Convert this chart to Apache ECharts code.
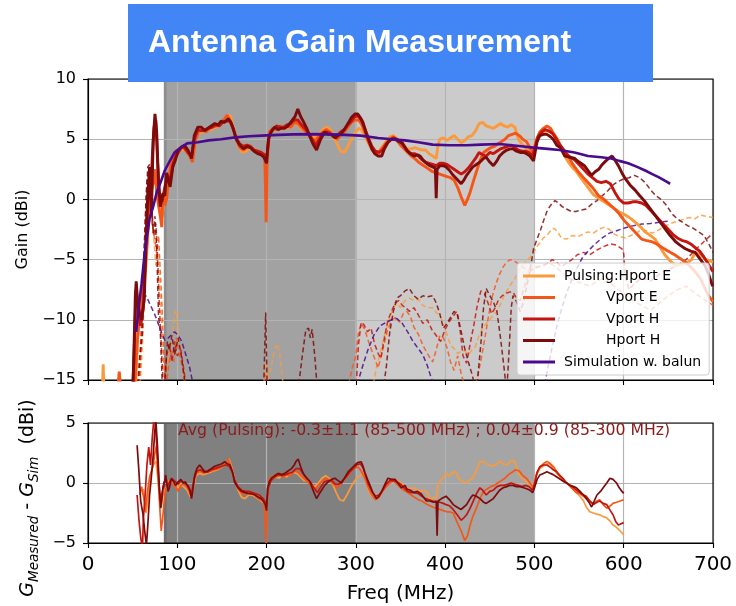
<!DOCTYPE html>
<html>
<head>
<meta charset="utf-8">
<script src="https://cdn.jsdelivr.net/npm/echarts@6/dist/echarts.min.js"></script>
<style>
  html, body { margin: 0; padding: 0; background: #fff; }
  #chart { width: 736px; height: 606px; }
</style>
</head>
<body>
<div id="chart"></div>
<script>
// ---- Measured co-pol gain (dBi) vs frequency (MHz) ----
const hportE = [[10,-16],[16,-16],[17,-13.7],[18,-16],[53,-16],[56,-11],[59,-9],[62,-8],[65,-5.5],[67,-3],[69,-0.5],[71,0.5],[73,1.5],[75,2.0],[77,1.0],[79,0.0],[81,-1.0],[83,-1.5],[85,0.0],[87,0.3],[89,1.3],[92,2.6],[95,3.3],[98,3.8],[101,4.0],[105,4.2],[109,4.1],[113,3.7],[117,3.3],[120,4.9],[124,5.6],[128,5.6],[132,5.7],[136,5.8],[140,5.9],[144,6.0],[148,6.2],[152,6.5],[156,6.9],[159,7.0],[162,6.2],[165,5.3],[169,4.4],[173,3.9],[177,4.0],[181,4.3],[185,4.2],[189,4.0],[193,3.8],[197,3.6],[200,3.5],[203,5.4],[207,5.8],[211,5.9],[215,5.8],[219,6.0],[223,5.9],[227,6.1],[231,6.3],[235,6.2],[239,5.9],[243,5.6],[247,5.6],[251,5.3],[255,5.1],[259,5.4],[263,5.8],[267,6.0],[271,5.8],[275,5.3],[279,4.6],[283,4.0],[287,3.9],[291,4.4],[295,5.0],[299,5.5],[303,5.9],[306,5.8],[310,5.3],[314,4.7],[318,4.2],[322,3.9],[326,4.0],[330,4.4],[334,4.8],[338,5.2],[342,5.3],[346,5.0],[350,4.6],[354,4.4],[358,4.2],[362,4.2],[366,4.3],[370,4.2],[374,4.1],[378,4.1],[382,3.8],[386,3.6],[390,3.4],[392,4.5],[394,5.0],[398,5.1],[402,4.9],[406,5.1],[410,5.3],[414,5.0],[418,4.7],[422,4.9],[426,5.2],[430,5.3],[434,5.7],[438,6.3],[442,6.4],[446,6.1],[450,6.0],[454,5.9],[458,6.1],[462,6.3],[466,6.1],[470,6.0],[474,6.2],[478,6.0],[482,5.0],[486,4.6],[490,4.3],[495,4.1],[499,4.1],[502,4.9],[506,5.3],[510,5.5],[514,5.7],[518,5.6],[522,5.4],[526,5.0],[530,4.3],[534,3.6],[538,3.1],[542,2.7],[546,2.4],[551,1.9],[556,1.4],[561,0.9],[566,0.4],[572,0.1],[578,-0.2],[584,-0.5],[590,-0.8],[596,-1.1],[602,-1.3],[608,-1.6],[613,-1.9],[619,-2.3],[624,-2.7],[630,-3.0],[635,-3.3],[641,-4.0],[646,-4.6],[652,-5.1],[658,-5.5],[664,-5.4],[670,-5.3],[676,-5.0],[680,-4.4],[686,-4.6],[692,-5.0],[700,-5.2]];

const vportE = [[33,-16],[35,-14.3],[37,-16],[52,-16],[55,-12],[57.6,-9.7],[60,-8],[62,-7.2],[65,-4.8],[67,-2.5],[69,-0.05],[71,0.8],[73,1.35],[75,2.5],[77,0.5],[79,-0.5],[81,-1.4],[82.6,-2.3],[84,0.5],[86,-0.5],[88,0],[90,1.5],[93,3.0],[96,3.4],[99,4.1],[102,4.0],[106,4.4],[110,4.0],[114,3.6],[117,3.1],[120,4.8],[124,5.7],[128,5.8],[132,5.6],[136,5.9],[140,6.0],[144,6.1],[148,6.3],[152,6.6],[156,7.0],[159,6.6],[163,5.8],[166,5.0],[170,4.3],[174,4.1],[178,4.3],[182,4.3],[186,4.1],[190,3.9],[194,3.7],[198,3.6],[199.5,-1.9],[200.5,3.0],[203,5.6],[207,5.9],[211,5.8],[215,6.1],[219,5.9],[223,6.1],[227,6.0],[231,6.4],[235,6.3],[239,6.0],[243,5.7],[247,5.4],[251,5.0],[255,4.9],[259,5.3],[263,5.6],[267,5.8],[271,5.6],[275,5.3],[279,5.0],[283,5.3],[287,5.6],[291,6.0],[295,6.4],[299,6.6],[303,6.6],[306,6.3],[310,5.6],[314,4.8],[318,4.1],[322,3.8],[326,3.9],[330,4.3],[334,4.7],[338,5.0],[342,5.2],[346,4.9],[350,4.5],[354,4.2],[358,3.9],[362,3.6],[366,3.4],[370,3.1],[374,2.9],[378,2.7],[382,2.5],[386,2.3],[390,2.2],[394,2.1],[398,2.0],[402,1.9],[406,1.8],[410,1.6],[414,1.0],[418,0.2],[422,-0.5],[425,0.0],[428,0.6],[432,1.6],[435,2.3],[439,3.2],[443,3.9],[447,4.1],[451,4.3],[455,4.4],[459,4.6],[463,4.8],[467,5.0],[471,5.3],[475,5.4],[479,5.5],[483,5.3],[487,5.0],[491,4.8],[495,4.3],[499,3.8],[502,4.9],[506,5.6],[510,5.9],[514,6.1],[518,5.9],[522,5.4],[526,4.8],[530,4.3],[534,3.9],[538,3.6],[543,2.9],[549,2.3],[555,1.8],[560,1.4],[566,0.9],[572,0.3],[578,0.0],[584,-0.4],[590,-0.8],[595,-1.2],[600,-1.7],[605,-2.1],[610,-2.5],[615,-2.9],[620,-3.3],[625,-3.4],[631,-3.5],[637,-3.7],[643,-4.0],[650,-4.3],[657,-4.6],[663,-4.9],[669,-5.2],[675,-5.6],[680,-6.0],[686,-6.6],[691,-7.4],[695,-8.0],[700,-8.5]];

const vportH = [[50,-16],[52,-12],[54,-7.5],[56,-9],[59,-10.5],[62,-9],[64,-5],[66,-1.5],[68,1.5],[70,0],[72,3.5],[74,6.0],[76,6.6],[78,3.0],[80,0.5],[83,-0.2],[86,1.0],[89,2.0],[92,1.5],[95,2.9],[98,3.5],[101,3.9],[105,4.4],[108,4.3],[112,3.9],[116,3.6],[119,5.0],[123,5.8],[127,5.7],[131,5.8],[135,5.9],[139,6.0],[143,6.2],[147,6.1],[151,6.4],[155,6.5],[159,6.5],[162,6.0],[166,5.1],[170,4.6],[174,4.4],[178,4.5],[182,4.4],[186,4.1],[190,4.0],[194,3.9],[198,3.7],[200,3.4],[203,5.3],[207,5.8],[211,6.1],[215,6.0],[219,6.0],[223,6.2],[227,6.3],[231,6.6],[235,6.6],[239,6.2],[243,5.9],[247,5.5],[251,5.0],[255,4.5],[259,5.0],[263,5.5],[267,5.6],[271,5.5],[275,5.2],[279,5.3],[283,5.6],[287,5.8],[291,6.2],[295,6.5],[299,6.9],[303,6.9],[306,6.6],[310,5.9],[314,5.1],[318,4.4],[322,4.0],[326,3.9],[330,4.1],[334,4.6],[338,4.9],[342,5.1],[346,5.0],[350,4.8],[354,4.4],[358,4.0],[362,3.8],[366,3.8],[370,3.6],[374,3.3],[378,3.1],[382,3.0],[386,2.9],[390,2.8],[394,3.0],[398,3.0],[402,2.9],[406,2.7],[410,2.5],[414,2.3],[418,2.1],[422,2.3],[426,2.6],[430,3.0],[434,3.4],[438,3.9],[442,3.7],[446,3.6],[450,3.9],[454,3.8],[458,4.0],[462,4.2],[466,4.3],[470,4.4],[474,4.5],[478,4.3],[482,4.1],[486,4.0],[490,4.0],[494,3.9],[498,3.6],[501,4.4],[504,5.2],[508,5.6],[512,5.8],[516,5.7],[520,5.5],[524,5.1],[528,4.6],[532,4.2],[536,3.8],[540,3.5],[545,3.3],[550,2.9],[555,2.5],[560,2.1],[565,1.8],[570,1.5],[575,1.4],[580,1.5],[585,1.3],[590,0.6],[595,0.0],[600,-0.3],[605,-0.3],[610,-0.2],[615,-0.2],[620,-0.3],[625,-0.5],[630,-0.9],[635,-1.3],[640,-1.7],[645,-2.1],[650,-2.5],[655,-2.9],[660,-3.2],[665,-3.4],[670,-3.5],[675,-3.7],[680,-4.0],[685,-4.3],[690,-4.8],[695,-5.4],[700,-6.0]];

const hportH = [[50,-16],[51,-14],[53,-8],[54,-6.8],[56,-8.9],[58,-9.5],[60,-10],[62,-8.8],[63,-8.4],[65,-3.4],[67,0.5],[69,2.7],[71,-1.4],[73,4.9],[75,7.1],[77,5.5],[79,1.3],[81,-0.6],[84,0.5],[86,0.3],[88,2.2],[90,1.6],[92,1.05],[95,2.7],[98,3.3],[101,4.1],[104,4.3],[108,4.5],[112,4.1],[116,3.4],[119,5.3],[123,6.0],[127,6.0],[131,5.7],[134,5.9],[138,6.1],[142,6.3],[146,6.2],[149,6.5],[153,6.4],[157,6.7],[160,6.4],[163,5.8],[166,5.0],[170,4.5],[174,4.2],[178,4.4],[182,4.3],[186,4.0],[190,3.8],[194,3.7],[197,3.5],[200,3.0],[202,5.0],[205,5.6],[209,6.0],[213,5.8],[216,5.9],[220,5.9],[224,6.1],[228,6.5],[232,6.9],[235,7.5],[238,6.9],[241,6.5],[245,5.9],[248,5.3],[252,4.6],[256,4.1],[260,4.9],[265,5.6],[269,5.4],[273,5.4],[277,5.1],[280,5.3],[284,5.5],[288,5.9],[292,6.4],[295,6.8],[299,7.1],[302,7.1],[305,6.8],[308,6.4],[311,5.6],[314,5.0],[318,4.2],[321,3.8],[325,3.6],[329,3.6],[332,4.2],[336,4.75],[340,5.0],[344,5.0],[348,4.8],[352,4.7],[357,4.1],[361,3.8],[365,3.6],[369,3.7],[372,3.6],[376,3.2],[379,3.0],[383,2.8],[386,2.7],[389,2.6],[390,0.1],[391,2.5],[394,2.8],[398,2.8],[401,2.7],[405,2.4],[409,2.0],[413,1.7],[418,1.3],[421,1.6],[424,2.0],[428,2.4],[431,2.7],[435,2.9],[439,3.1],[443,3.4],[446,3.5],[450,3.1],[454,2.8],[458,3.2],[461,3.6],[465,3.9],[469,4.1],[473,4.2],[476,4.2],[480,4.0],[484,3.9],[488,3.9],[491,3.8],[495,3.6],[499,3.2],[501,4.0],[503,4.8],[506,5.3],[510,5.4],[514,5.4],[518,5.2],[521,5.0],[525,4.5],[529,4.3],[534,3.6],[540,3.5],[545,3.4],[550,3.1],[556,2.8],[560,2.4],[564,2.0],[568,2.3],[572,2.5],[576,2.9],[580,3.2],[583,3.4],[587,3.6],[590,3.3],[594,2.8],[598,2.2],[602,1.7],[607,1.2],[613,0.75],[618,0.3],[624,-0.2],[630,-0.8],[635,-1.3],[640,-1.8],[646,-2.4],[652,-3.0],[658,-3.5],[663,-3.8],[669,-4.1],[675,-4.3],[680,-4.4],[685,-4.9],[691,-5.5],[695,-6.2],[699,-7.1],[700,-7.2]];

// ---- Simulated gain with balun (co-pol solid, cross-pol dashed) ----
const simCo = [[54,-11],[57,-8.8],[60,-7],[63,-4.8],[65,-3.6],[69,-1.6],[73,-0.6],[77,0.6],[81,1.35],[86,2.4],[92,3.25],[97,3.9],[103,4.25],[111,4.65],[123,4.75],[135,4.9],[149,5.0],[165,5.15],[180,5.25],[200,5.32],[213,5.36],[230,5.4],[250,5.42],[270,5.4],[288,5.36],[305,5.3],[325,5.1],[340,5.0],[355,4.9],[370,4.75],[386,4.55],[405,4.5],[424,4.5],[440,4.55],[461,4.6],[480,4.45],[499,4.3],[515,4.2],[528,4.1],[545,3.9],[560,3.6],[575,3.5],[586,3.4],[595,3.2],[605,3.0],[615,2.7],[624,2.4],[632,2.1],[639,1.85],[646,1.55],[652,1.3]];

const simX = [[54,-8.6],[60,-8.3],[65,-8.0],[70,-8.8],[75,-9.6],[80,-10.6],[86,-11.7],[90,-11.5],[97,-11.0],[101,-11.3],[105,-11.8],[110,-13],[114,-14],[118,-15.5],null,[300,-16],[303,-15],[309,-13.5],[314,-12.4],[320,-11.3],[327,-10.5],[334,-10.2],[340,-10.0],[346,-9.9],[352,-10.3],[358,-11],[364,-11.8],[370,-12.4],[375,-12.9],[380,-13.8],[386,-15.2],null,[510,-16],[515,-14],[520,-12.2],[525,-10.6],[530,-9.2],[535,-8.0],[540,-7],[547,-5.8],[554,-4.8],[560,-4.3],[568,-3.7],[576,-3.2],[584,-2.8],[592,-2.6],[600,-2.4],[610,-2.2],[620,-2.05],[630,-2.0],[640,-1.9],[650,-1.8]];

// ---- Measured cross-pol gain (dBi), drawn dashed ----
const hportEx = [[58,-16],[61,-12],[64,-6],[66,-3],[68,-1],[70,0.0],[72,-2],[74,-3.5],[76,-5.5],[78,-4.5],[80,-7],[82,-10],[84,-13],[86,-15],[88,-14],[91,-13],[94,-11.5],[97,-9.5],[99,-9.2],[101,-11],[104,-12.5],[107,-14.5],[110,-16],null,[196,-16],[199,-13.5],[201,-15],[205,-14],[209,-12.4],[212,-12],[215,-13],[218,-15],[220,-16],null,[318,-16],[323,-14],[328,-12.5],[333,-11],[338,-9.8],[342,-9.0],[346,-8.6],[350,-9.0],[355,-8.4],[360,-8.2],[365,-8.4],[370,-8.3],[375,-8.8],[380,-9.0],[386,-9.0],[390,-9.4],[394,-9.6],[398,-10.3],[402,-11.2],[406,-12.1],[410,-12.4],[414,-12.8],[418,-12.6],[422,-12.6],[426,-12.9],[430,-12.5],[434,-12.2],[438,-11.3],[442,-10.7],[446,-10.3],[450,-10.0],[454,-9.6],[458,-9.3],[462,-8.7],[466,-8.0],[470,-7.5],[474,-7.0],[478,-6.6],[482,-6.0],[486,-5.5],[490,-5.2],[494,-4.9],[498,-4.6],[502,-4.0],[506,-3.6],[510,-3.2],[514,-3.0],[518,-2.6],[522,-2.4],[526,-2.7],[530,-3.2],[536,-3.3],[542,-3.0],[548,-3.1],[554,-2.9],[560,-2.7],[566,-2.8],[572,-2.5],[578,-2.3],[584,-2.5],[590,-2.9],[596,-3.1],[602,-3.2],[608,-3.0],[614,-2.8],[620,-2.5],[626,-2.6],[632,-2.8],[638,-2.6],[644,-2.3],[650,-2.1],[656,-1.9],[662,-1.8],[668,-1.6],[674,-1.5],[680,-1.6],[686,-1.3],[692,-1.4],[700,-1.5]];

const vportEx = [[57,-16],[60,-12],[63,-7],[65,-3],[67,-0.5],[69,0.5],[71,-1],[73,-2.5],[75,-3.5],[77,-4.5],[79,-3.0],[81,-6],[83,-9],[85,-13],[87,-16],[90,-14],[93,-12.5],[96,-13.5],[99,-11.5],[102,-12.8],[106,-14],[110,-16],null,[195,-16],[198,-14.5],[201,-15.5],[203,-16],null,[290,-16],[296,-14],[300,-13],[303,-11],[306,-10.3],[310,-10.8],[315,-12],[320,-13],[325,-14],[330,-12.5],[335,-11],[340,-10.0],[345,-9.8],[349,-10.2],[353,-9.5],[357,-9.3],[361,-9.7],[365,-10.6],[370,-11.2],[375,-12.1],[380,-12.8],[386,-13.5],[390,-12.5],[394,-11.3],[398,-11.5],[402,-12.3],[406,-13.5],[410,-14.2],[414,-13.0],[418,-14.5],[422,-15.5],[426,-16],null,[432,-16],[437,-14.5],[441,-13],[445,-11.3],[449,-9.5],[453,-8.0],[457,-7.0],[461,-6.2],[465,-5.6],[469,-5.2],[473,-5.0],[477,-5.1],[481,-5.3],[485,-5.5],[489,-5.7],[493,-5.9],[497,-5.8],[502,-5.6],[508,-5.5],[515,-5.3],[522,-5.5],[530,-6.0],[538,-6.5],[546,-6.8],[554,-7.0],[562,-7.2],[570,-6.8],[578,-6.5],[586,-7.0],[594,-7.5],[600,-7.8],[610,-8.4],[620,-8.8],[630,-9.2],[640,-8.6],[650,-8.0],[660,-7.5],[670,-7.2],[680,-7.8],[690,-8.3],[700,-8.8]];

const vportHx = [[56,-16],[59,-12],[62,-6],[64,-2],[66,1.5],[68,2.4],[70,0],[72,-2],[74,-3],[76,-2],[78,-5],[80,-9],[82,-12],[84,-15],[86,-16],[88,-13],[91,-12],[94,-13.5],[97,-11.8],[100,-13],[104,-12.5],[108,-14.5],[111,-16],null,[300,-16],[303,-12],[306,-10.2],[309,-10.4],[313,-11],[317,-10.7],[321,-12],[325,-12.8],[328,-13.2],[332,-11.5],[336,-10],[340,-9.3],[344,-8.6],[348,-8.4],[352,-8.8],[356,-9.0],[360,-9.3],[365,-9.0],[370,-9.6],[375,-10.3],[380,-10.0],[385,-10.8],[390,-11.3],[395,-11.8],[400,-10.8],[405,-10.1],[410,-9.6],[413,-9.3],[417,-11],[420,-13],[424,-13.6],[428,-12],[432,-10.5],[436,-8.8],[440,-7.6],[444,-7.8],[448,-8.6],[452,-9.5],[456,-9.0],[460,-8.3],[464,-8.0],[468,-7.8],[472,-7.7],[476,-7.7],[480,-8.2],[484,-8.4],[488,-7.5],[492,-6.4],[496,-5.9],[500,-5.7],[505,-5.6],[510,-5.5],[515,-5.3],[520,-5.0],[525,-5.2],[530,-5.6],[536,-5.3],[542,-5.0],[548,-4.6],[555,-4.4],[562,-4.6],[570,-4.2],[578,-3.9],[585,-3.7],[592,-3.8],[598,-4.1],[600,-4.5],[602,-6.5],[606,-7.5],[612,-7.0],[620,-6.5],[630,-6.8],[640,-6.2],[650,-5.8],[660,-5.5],[670,-5.0],[680,-4.2],[690,-3.5],[700,-2.8]];

const hportHx = [[55,-16],[58,-13],[61,-11.1],[63,-4.2],[65,0],[67,2.7],[69,2.9],[71,0.5],[73,-2.8],[75,-1.4],[77,-4.2],[79,-9.7],[81,-11.1],[83,-15],[85,-16],[87,-14],[89,-11.8],[91,-12.5],[94,-11.3],[97,-12.9],[101,-11.5],[105,-13.2],[109,-15.5],null,[190,-16],[197,-15],[199,-9.4],[200.5,-15],[202,-16],null,[235,-16],[240,-13],[244,-10.8],[247,-10.7],[249,-11.5],[251,-10.8],[254,-13],[257,-16],null,[330,-16],[334,-14],[338,-11],[342,-9.3],[346,-8.2],[350,-8.0],[355,-7.6],[360,-7.4],[365,-8.0],[370,-8.3],[375,-8.0],[380,-8.1],[386,-8.0],[390,-8.6],[394,-9.5],[398,-10.7],[402,-10.3],[406,-9.8],[410,-9.3],[414,-9.6],[418,-11],[422,-12.4],[426,-13.5],[430,-14.5],[435,-16],[440,-12],[443,-9],[446,-7.4],[450,-8.0],[454,-8.5],[458,-9.3],[462,-11.5],[466,-14],[469,-16],[472,-12],[474,-9],[476,-8],[480,-8.5],[484,-9.3],[488,-8.5],[492,-7.0],[496,-5.5],[499,-4.1],[503,-3.3],[507,-2.5],[511,-1.6],[514,-1.0],[518,-0.5],[523,-0.1],[527,-0.3],[531,-0.6],[536,-0.8],[541,-1.0],[546,-1.0],[552,-0.9],[558,-0.8],[564,-0.4],[570,-0.1],[576,0.3],[582,0.7],[588,1.2],[594,1.5],[600,1.7],[606,1.8],[612,2.0],[618,1.8],[624,1.4],[630,0.8],[636,0.3],[642,0.0],[648,-0.5],[654,-1.2],[660,-1.6],[666,-1.9],[672,-2.2],[678,-2.4],[684,-2.7],[690,-3.0],[696,-3.8],[700,-4.4]];

// ---- Measured minus simulated gain (dB) ----
const resHportE = [[62,-0.5],[63.5,-1.5],[65,-2.5],[66.5,-1.8],[68,-0.5],[70,0.6],[72,1.2],[74,1.6],[76,1.8],[78,0.5],[80,-1.2],[82,-2.0],[84,-1.0],[86,-0.6],[88,-0.3],[91,0.2],[94,0.0],[97,-0.2],[100,-0.5],[103,-0.1],[107,-0.3],[111,-0.6],[115,-1.2],[118,-0.3],[121,0.6],[125,0.8],[129,0.7],[133,0.8],[137,0.9],[141,1.0],[145,1.1],[149,1.3],[153,1.5],[156,1.8],[158,2.0],[161,1.3],[164,0.4],[168,-0.6],[172,-1.2],[176,-1.3],[180,-1.0],[184,-1.0],[188,-1.2],[192,-1.4],[196,-1.6],[200,-1.8],[202,-0.3],[206,0.4],[210,0.5],[214,0.4],[218,0.7],[222,0.5],[226,0.7],[230,0.9],[234,0.8],[238,0.5],[242,0.2],[246,0.2],[250,-0.1],[254,-0.3],[258,0.0],[262,0.4],[266,0.6],[270,0.4],[274,-0.1],[278,-0.8],[282,-1.4],[286,-1.5],[290,-1.0],[294,-0.4],[298,0.1],[302,0.5],[305,0.6],[308,0.9],[311,0.2],[314,-0.6],[318,-1.1],[322,-1.3],[326,-1.1],[330,-0.7],[334,-0.2],[338,0.2],[342,0.3],[346,0.1],[349,0.1],[353,-0.2],[357,-0.4],[361,-0.5],[365,-0.4],[369,-0.6],[372,-0.7],[376,-0.6],[380,-0.8],[383,-1.4],[387,-1.2],[390,-1.3],[392,-0.2],[394,0.1],[398,0.5],[401,0.8],[405,0.6],[409,0.9],[412,0.9],[416,0.3],[420,0.1],[424,0.0],[428,0.3],[431,0.4],[435,1.0],[439,1.77],[443,1.8],[446,1.6],[450,1.5],[454,1.4],[458,1.6],[461,1.8],[465,1.6],[469,1.5],[473,1.8],[476,1.9],[479,1.6],[482,0.8],[486,0.4],[491,0.1],[495,-0.1],[499,-0.2],[502,0.7],[506,1.2],[510,1.4],[514,1.6],[517,1.6],[521,1.2],[525,0.8],[529,0.5],[533,0.2],[536,0.0],[540,-0.3],[544,-0.6],[547,-0.8],[551,-1.1],[555,-1.5],[558,-2.0],[562,-2.4],[566,-2.5],[570,-2.6],[573,-2.65],[577,-2.8],[581,-2.9],[585,-3.2],[588,-3.5],[592,-3.7],[596,-4.0],[600,-4.3]];

const resVportE = [[58,-1],[60,-0.3],[61.7,-0.4],[63,-1.5],[64,-2.4],[65.5,-1.5],[67,-0.5],[69,0.5],[71,1.0],[73,1.5],[75,2.5],[76.6,3.1],[78,1.5],[80,-1.5],[82,-4],[83.5,-3],[85,-1.8],[87,-0.5],[89,-0.2],[92,0.1],[95,-0.1],[98,-0.3],[101,-0.7],[104,-0.2],[108,0.0],[112,-0.5],[116,-1.2],[119,0.2],[122,0.9],[126,1.0],[130,0.8],[134,1.0],[138,1.0],[142,1.1],[146,1.2],[150,1.4],[154,1.6],[157,2.0],[159,1.6],[162,0.9],[165,0.0],[169,-0.6],[173,-0.9],[177,-0.9],[181,-0.8],[185,-0.9],[189,-1.2],[193,-1.4],[197,-1.5],[199.5,-5],[200.5,-1.5],[203,0.3],[207,0.6],[211,0.5],[215,0.8],[219,0.5],[223,0.7],[227,0.6],[231,1.0],[235,0.9],[239,0.6],[243,0.3],[247,0.0],[251,-0.4],[255,-0.5],[259,-0.1],[263,0.2],[267,0.4],[271,0.2],[275,-0.1],[279,-0.4],[283,-0.1],[287,0.3],[291,0.6],[295,1.0],[299,1.3],[303,1.3],[306,1.0],[310,0.4],[314,-0.4],[318,-1.0],[322,-1.4],[326,-1.2],[330,-0.7],[334,-0.3],[338,0.0],[342,0.2],[346,-0.1],[350,-0.4],[354,-0.6],[358,-0.8],[362,-1.0],[366,-1.2],[370,-1.4],[374,-1.5],[378,-1.7],[383,-1.9],[386,-2.0],[390,-2.1],[394,-2.2],[398,-2.3],[402,-2.4],[405,-2.4],[409,-2.5],[413,-3.2],[418,-4.0],[422,-4.8],[425,-4.4],[428,-3.5],[431,-2.8],[435,-2.1],[439,-1.3],[443,-0.7],[447,-0.5],[451,-0.3],[455,-0.2],[459,0.0],[463,0.2],[467,0.4],[471,0.7],[475,0.9],[479,1.1],[483,1.0],[487,0.6],[491,0.4],[495,0.0],[499,-0.4],[502,0.6],[506,1.3],[510,1.6],[514,1.8],[518,1.6],[522,1.3],[526,0.8],[530,0.4],[534,0.1],[538,-0.1],[543,-0.5],[547,-0.8],[551,-0.9],[555,-1.1],[558,-1.3],[562,-1.5],[566,-1.7],[570,-1.5],[573,-1.4],[577,-1.8],[581,-2.1],[585,-1.9],[588,-1.7],[592,-1.6],[596,-1.5],[600,-1.4]];

const resVportH = [[55,-1],[57,-3],[59,-4.5],[61,-5.5],[62,-3],[64,-1],[66,1.5],[68,3],[70,1.5],[72,3.8],[74,5.5],[75.5,5],[77,3],[79,0.5],[81,-1.5],[83,-0.8],[85,0],[87,0.3],[89,-0.3],[92,0.2],[95,0.3],[98,0.1],[101,-0.1],[104,0.2],[108,0.0],[112,-0.2],[116,-0.9],[119,0.4],[122,1.0],[126,1.1],[130,0.9],[134,0.9],[138,1.1],[142,1.2],[146,1.3],[150,1.4],[154,1.5],[158,1.4],[161,1.0],[164,0.3],[168,-0.3],[172,-0.6],[176,-0.7],[180,-0.7],[184,-0.8],[188,-0.9],[192,-1.0],[196,-1.3],[199,-1.6],[200,-1.9],[202,-0.4],[205,0.2],[209,0.5],[213,0.7],[217,0.6],[221,0.7],[225,0.8],[229,0.9],[233,1.2],[237,1.2],[241,0.8],[245,0.4],[249,0.1],[253,-0.4],[257,-0.8],[261,-0.3],[265,0.1],[269,0.2],[273,0.2],[277,-0.1],[281,-0.1],[285,0.2],[289,0.5],[293,0.9],[297,1.2],[301,1.5],[305,1.6],[308,1.3],[311,0.6],[314,-0.1],[318,-0.7],[322,-1.1],[326,-1.0],[330,-0.6],[334,-0.1],[338,0.2],[342,0.2],[346,0.1],[350,-0.1],[354,-0.4],[358,-0.7],[362,-0.8],[366,-0.8],[370,-0.9],[374,-1.1],[378,-1.3],[382,-1.4],[386,-1.5],[390,-1.6],[394,-1.6],[398,-1.7],[401,-1.8],[405,-1.9],[409,-2.2],[413,-2.6],[418,-3.1],[421,-2.9],[424,-2.65],[428,-2.1],[431,-1.6],[435,-0.9],[439,-0.4],[442,-0.6],[446,-1.0],[450,-0.7],[454,-0.6],[458,-0.3],[462,-0.2],[466,-0.2],[470,-0.1],[474,0.0],[478,-0.1],[482,-0.2],[486,-0.3],[490,-0.2],[494,-0.3],[498,-0.6],[501,0.2],[503,0.9],[506,1.35],[510,1.5],[514,1.5],[518,1.3],[521,1.1],[525,0.94],[529,0.6],[533,0.3],[536,0.0],[540,-0.2],[544,-0.4],[547,-0.6],[551,-0.8],[555,-1.0],[558,-1.1],[562,-1.5],[566,-1.8],[570,-1.6],[573,-1.5],[577,-1.7],[581,-1.8],[585,-2.3],[588,-2.65],[591,-3.2],[594,-3.5],[597,-3.4],[600,-3.3]];

const resHportH = [[55,3.15],[57,1],[59,-1.5],[61.7,-2.65],[63.5,-4],[65.4,-5.2],[67,-3.5],[69,-1],[71,0.5],[73,2.3],[75,4.5],[76,5.2],[77.5,3.5],[78.5,2.0],[80,-0.5],[81.5,-2.1],[83,-1.2],[84,-0.4],[86,0.2],[87,0.66],[89.7,-0.7],[91.5,-0.3],[93.4,0.4],[96,0.1],[98,-0.2],[101,0.1],[104,0.3],[106.5,0],[109,0.1],[112,-0.3],[114,-0.6],[116,-1.3],[118,-0.2],[119.6,0.66],[122,1.2],[125,1.5],[128,1.2],[131,0.94],[134,1.0],[138,1.2],[142,1.4],[146,1.5],[150,1.6],[153,1.77],[156,1.6],[159,1.5],[162,0.9],[164,0.1],[168,-0.4],[172,-0.7],[176,-0.8],[179,-0.86],[183,-0.9],[187,-1.0],[191,-1.2],[194,-1.3],[197,-1.6],[198.5,-1.8],[200,-2.3],[201,-0.5],[203,0.1],[205.5,0.4],[209,0.6],[213,0.8],[217,0.7],[220.5,0.8],[224,1.0],[228,1.2],[231,1.5],[233,1.8],[235.4,2.0],[238,1.4],[241,0.8],[245,0.4],[248.5,0.1],[252,-0.6],[256,-1.3],[259,-0.9],[261.6,-0.6],[265,-0.2],[269,0.1],[273,0.3],[276.5,0.4],[280,0.2],[284,0],[288,0.5],[291.5,0.94],[295,1.2],[299,1.5],[302,1.7],[306,1.77],[308,1.4],[310,0.9],[313,0.3],[315.8,-0.2],[319,-0.8],[323,-1.3],[326,-1.1],[329,-0.7],[332,-0.2],[336,0.4],[340,0.3],[344,0.3],[347,0],[351,-0.4],[355,-0.2],[357,-0.5],[361,-0.6],[365,-0.8],[369,-0.7],[373,-0.9],[379,-1.5],[383,-1.5],[387,-1.6],[390,-1.5],[391,-4.4],[392,-1.5],[396,-1.3],[401,-1.1],[405,-1.4],[409,-1.8],[413,-2.0],[418,-2.2],[421,-2.0],[424,-1.8],[428,-1.3],[431,-1.0],[435,-1.1],[439,-1.3],[443,-1.6],[446,-1.7],[450,-1.5],[454,-1.3],[458,-0.9],[461,-0.6],[465,-0.4],[469,-0.3],[472,-0.2],[476,-0.2],[480,-0.3],[484,-0.3],[488,-0.4],[492,-0.5],[495,-0.6],[498,-0.8],[500.5,-0.3],[503,0.3],[506,0.66],[510,0.8],[514,0.94],[518,0.8],[521,0.7],[525,0.5],[529,0.3],[533,0.1],[536,0],[540,-0.2],[544,-0.3],[547,-0.4],[551,-0.7],[555,-1.0],[558,-1.3],[561,-1.6],[564,-2.0],[567,-1.5],[570,-1.0],[574,-0.7],[577,-0.4],[581,0.0],[584.6,0.4],[588,0.3],[592,0.0],[595,-0.4],[598,-0.7],[600,-0.86]];

// ---- Axis ticks and labels ----
const freqTicks = [0, 100, 200, 300, 400, 500, 600, 700];
const gainTicks = [-15, -10, -5, 0, 5, 10];
const resTicks = [-5, 0, 5];
const bandWide = [85, 500];
const bandCore = [85, 300];
const legendNames = ['Pulsing:Hport E', 'Vport E', 'Vport H', 'Hport H', 'Simulation w. balun'];
const avgNote = 'Avg (Pulsing): -0.3\u00b11.1 (85-500 MHz) ; 0.04\u00b10.9 (85-300 MHz)';

const C = {
  hE: '#fb9a3c',
  vE: '#f4561a',
  vH: '#c4150e',
  hH: '#7d0b0b',
  sim: '#4a0a8c'
};

const FONT = '"DejaVu Sans", sans-serif';
const minusFmt = v => String(v).replace('-', '\u2212');

// null marks a break in a trace
const prep = arr => arr.map((p, i) => p === null ? [arr[i - 1][0], '-'] : p);

function trace(name, color, data, opts) {
  return Object.assign({
    name: name,
    type: 'line',
    data: prep(data),
    xAxisIndex: 0,
    yAxisIndex: 0,
    symbol: 'none',
    showSymbol: false,
    clip: true,
    z: 5,
    silent: true,
    lineStyle: { color: color, width: 2.9 },
    itemStyle: { color: color },
    emphasis: { disabled: true }
  }, opts || {});
}

function dashed(name, color, data) {
  return trace(name, color, data, {
    z: 4,
    lineStyle: { color: color, width: 1.5, type: [5, 3], opacity: 0.85 }
  });
}

function bands(axisIdx, dark, light, edge) {
  return {
    type: 'line', data: [], xAxisIndex: axisIdx, yAxisIndex: axisIdx, z: 1, silent: true,
    markArea: {
      silent: true,
      data: [
        [{ xAxis: bandCore[0], itemStyle: { color: dark } }, { xAxis: bandCore[1] }],
        [{ xAxis: bandCore[1], itemStyle: { color: light } }, { xAxis: bandWide[1] }],
        [{ xAxis: bandCore[0], itemStyle: { color: edge } }, { xAxis: bandCore[0] + 3 }]
      ]
    }
  };
}

const axisCommon = {
  type: 'value',
  z: 3,
  axisLine: { show: true, onZero: false, lineStyle: { color: '#000', width: 1.1 } },
  axisTick: { show: true, inside: false, length: 5, lineStyle: { color: '#000', width: 1.1 } },
  splitLine: { show: true, lineStyle: { color: '#b4b4b4', width: 1.2 } }
};

const chart = echarts.init(document.getElementById('chart'), null, { renderer: 'canvas' });

chart.setOption({
  animation: false,
  backgroundColor: '#fff',
  grid: [
    { left: 88, top: 79, width: 625, height: 301, show: true, borderColor: '#000', borderWidth: 1.1, backgroundColor: 'transparent', z: 4 },
    { left: 88, top: 423, width: 625, height: 120, show: true, borderColor: '#000', borderWidth: 1.1, backgroundColor: 'transparent', z: 4 }
  ],
  xAxis: [
    Object.assign({}, axisCommon, {
      gridIndex: 0, min: freqTicks[0], max: freqTicks[freqTicks.length - 1], interval: 100,
      axisLabel: { show: false }
    }),
    Object.assign({}, axisCommon, {
      gridIndex: 1, min: freqTicks[0], max: freqTicks[freqTicks.length - 1], interval: 100,
      axisLabel: { show: true, color: '#000', fontSize: 20, fontFamily: FONT, margin: 12 },
      name: 'Freq (MHz)', nameLocation: 'middle', nameGap: 41,
      nameTextStyle: { color: '#000', fontSize: 20, fontFamily: FONT }
    })
  ],
  yAxis: [
    Object.assign({}, axisCommon, {
      gridIndex: 0, min: gainTicks[0], max: gainTicks[gainTicks.length - 1], interval: 5,
      axisLabel: { color: '#000', fontSize: 16, fontFamily: FONT, margin: 12, formatter: minusFmt },
      name: 'Gain (dBi)', nameLocation: 'middle', nameGap: 55, nameRotate: 90,
      nameTextStyle: { color: '#000', fontSize: 16, fontFamily: FONT }
    }),
    Object.assign({}, axisCommon, {
      gridIndex: 1, min: resTicks[0], max: resTicks[resTicks.length - 1], interval: 5,
      axisLabel: { color: '#000', fontSize: 16, fontFamily: FONT, margin: 12, formatter: minusFmt },
      name: '{g|G}{s|Measured}{t| - }{g|G}{s|Sim}{t|  (dBi)}', nameLocation: 'middle', nameGap: 44, nameRotate: 90,
      nameTextStyle: {
        color: '#000', fontFamily: FONT, padding: [0, 30, 0, 0],
        rich: {
          g: { fontSize: 19, fontStyle: 'italic', fontFamily: FONT, lineHeight: 26, verticalAlign: 'middle' },
          s: { fontSize: 13.5, fontStyle: 'italic', fontFamily: FONT, lineHeight: 12, verticalAlign: 'bottom' },
          t: { fontSize: 19, fontFamily: FONT, lineHeight: 26, verticalAlign: 'middle' }
        }
      }
    })
  ],
  legend: {
    data: legendNames,
    orient: 'vertical',
    left: 517, top: 263,
    padding: [5, 8, 5, 6],
    icon: 'rect',
    itemWidth: 32, itemHeight: 3, itemGap: 5.5,
    backgroundColor: 'rgba(255,255,255,0.8)',
    borderColor: '#cccccc', borderWidth: 1, borderRadius: 3,
    z: 20,
    selectedMode: false,
    formatter: n => (n === 'Vport E' || n === 'Vport H' || n === 'Hport H') ? '{p|}' + n : '{q|}' + n,
    textStyle: { color: '#000', fontSize: 14, lineHeight: 16, fontFamily: FONT, rich: { p: { width: 46 }, q: { width: 4 } } }
  },
  graphic: [
    { type: 'rect', z: 100, shape: { x: 128, y: 4, width: 525, height: 78 }, style: { fill: '#4285f4' } },
    { type: 'text', z: 101, x: 148, y: 43, style: { text: 'Antenna Gain Measurement', fill: '#fff', font: 'bold 32px "Liberation Sans", Arial, sans-serif', verticalAlign: 'middle' } },
    { type: 'text', z: 50, x: 178, y: 431, style: { text: avgNote, fill: '#8b1a1a', font: '15.7px "DejaVu Sans", sans-serif', verticalAlign: 'middle' } }
  ],
  series: [
    bands(0, '#a2a2a2', '#cbcbcb', '#8e8e8e'),
    bands(1, '#808080', '#a5a5a5', '#6e6e6e'),
    dashed('Pulsing:Hport E x-pol', C.hE, hportEx),
    dashed('Vport E x-pol', C.vE, vportEx),
    dashed('Vport H x-pol', C.vH, vportHx),
    dashed('Hport H x-pol', C.hH, hportHx),
    dashed('Simulation x-pol', C.sim, simX),
    trace('Pulsing:Hport E', C.hE, hportE),
    trace('Vport E', C.vE, vportE),
    trace('Vport H', C.vH, vportH),
    trace('Hport H', C.hH, hportH),
    trace('Simulation w. balun', C.sim, simCo, { z: 6, lineStyle: { color: C.sim, width: 2.6 } }),
    trace('Pulsing:Hport E residual', C.hE, resHportE, { xAxisIndex: 1, yAxisIndex: 1, lineStyle: { color: C.hE, width: 1.7 } }),
    trace('Vport E residual', C.vE, resVportE, { xAxisIndex: 1, yAxisIndex: 1, lineStyle: { color: C.vE, width: 1.7 } }),
    trace('Vport H residual', C.vH, resVportH, { xAxisIndex: 1, yAxisIndex: 1, lineStyle: { color: C.vH, width: 1.7 } }),
    trace('Hport H residual', C.hH, resHportH, { xAxisIndex: 1, yAxisIndex: 1, lineStyle: { color: C.hH, width: 1.7 } })
  ]
});
</script>
</body>
</html>
